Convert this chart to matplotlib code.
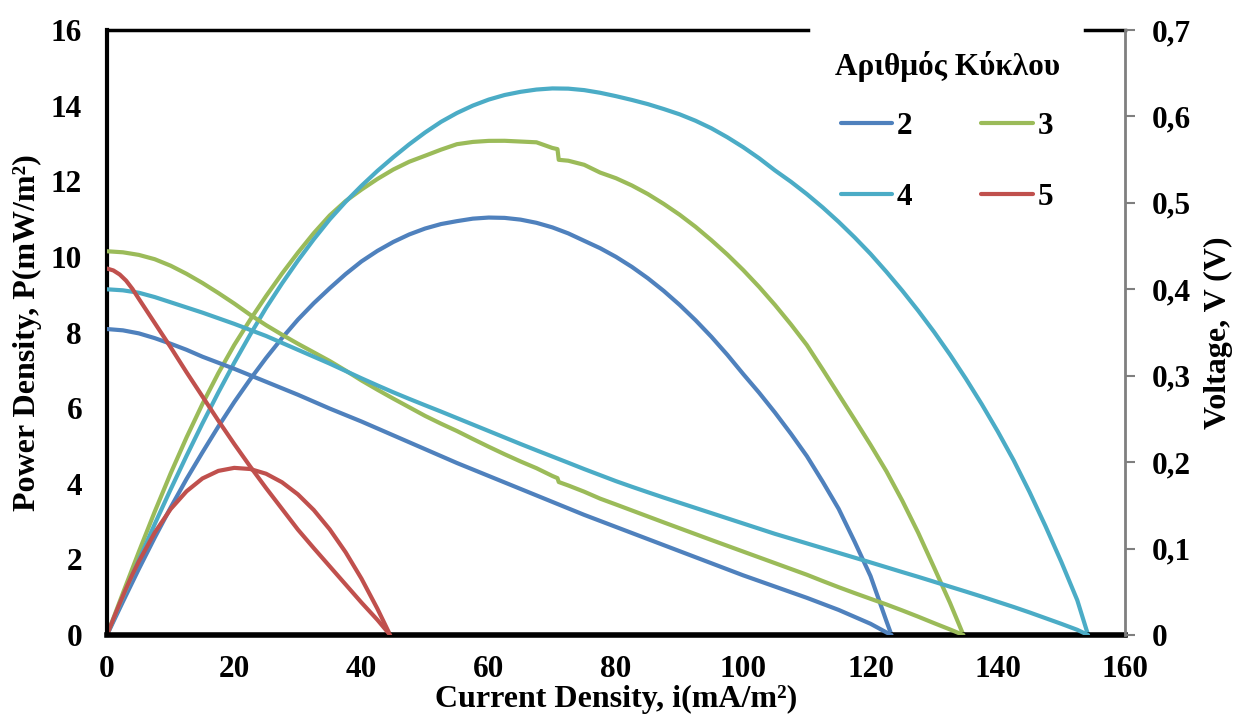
import matplotlib
matplotlib.use("Agg")
import matplotlib.pyplot as plt
from matplotlib.lines import Line2D

# ---------------- data ----------------
cycles = ["2", "3", "4", "5"]
colors = ["#4F81BD", "#9BBB59", "#4BACC6", "#C0504D"]
legend_title = "Αριθμός Κύκλου"

# Cycle 2 : current density (mA/m2), voltage (V), power density (mW/m2)
i2 = [0, 2.5, 5, 7.5, 10, 12.5, 15, 17.5, 20, 22.5, 25, 27.5, 30, 32.5, 35, 37.5,
      40, 42.5, 45, 47.5, 50, 52.5, 55, 57.5, 60, 62.5, 65, 67.5, 70, 72.5, 75, 77.5,
      80, 82.5, 85, 87.5, 90, 92.5, 95, 97.5, 100, 102.5, 105, 107.5, 110, 112.5,
      115, 117.5, 120, 122.5, 123.3]
V2 = [0.354, 0.3525, 0.349, 0.3435, 0.337, 0.330, 0.322, 0.315, 0.308, 0.3005,
      0.293, 0.2855, 0.278, 0.270, 0.262, 0.2545, 0.247, 0.239, 0.231, 0.223, 0.215,
      0.207, 0.199, 0.1915, 0.184, 0.1765, 0.169, 0.1615, 0.154, 0.1465, 0.139,
      0.132, 0.125, 0.118, 0.111, 0.104, 0.097, 0.090, 0.083, 0.076, 0.069, 0.0625,
      0.056, 0.0495, 0.043, 0.036, 0.029, 0.021, 0.013, 0.003, 0.0]
P2 = [0, 0.881, 1.745, 2.576, 3.37, 4.125, 4.83, 5.513, 6.16, 6.761, 7.325, 7.851,
      8.34, 8.775, 9.17, 9.544, 9.88, 10.158, 10.395, 10.593, 10.75, 10.868, 10.945,
      11.011, 11.04, 11.031, 10.985, 10.901, 10.78, 10.621, 10.425, 10.23, 10.0,
      9.735, 9.435, 9.1, 8.73, 8.325, 7.885, 7.41, 6.9, 6.406, 5.88, 5.321, 4.73,
      4.05, 3.335, 2.468, 1.56, 0.368, 0]

# Cycle 3
i3 = [0, 2.5, 5, 7.5, 10, 12.5, 15, 17.5, 20, 22.5, 25, 27.5, 30, 32.5, 35, 37.5,
      40, 42.5, 45, 47.5, 50, 52.5, 55, 57.5, 60, 62.5, 65, 67.5, 70, 70.8, 71.0,
      72.5, 75, 77.5, 80, 82.5, 85, 87.5, 90, 92.5, 95, 97.5, 100, 102.5, 105, 107.5,
      110, 112.5, 115, 117.5, 120, 122.5, 125, 127.5, 130, 132.5, 134.6]
V3 = [0.444, 0.4428, 0.4398, 0.4348, 0.4273, 0.4179, 0.4073, 0.3957, 0.3835, 0.3705,
      0.3585, 0.3475, 0.337, 0.327, 0.317, 0.306, 0.2945, 0.2838, 0.2735, 0.2635,
      0.2535, 0.2445, 0.236, 0.2268, 0.2178, 0.2091, 0.2008, 0.193, 0.184, 0.1815,
      0.177, 0.173, 0.1658, 0.1578, 0.151, 0.1441, 0.1372, 0.1303, 0.1235, 0.1167,
      0.1099, 0.1032, 0.0965, 0.0898, 0.0831, 0.0764, 0.0697, 0.0624, 0.0553, 0.0485,
      0.0419, 0.03535, 0.0284, 0.0212, 0.0137, 0.0064, 0.0]
P3 = [0, 1.107, 2.199, 3.261, 4.273, 5.224, 6.110, 6.925, 7.670, 8.336, 8.963, 9.556,
      10.11, 10.628, 11.095, 11.475, 11.78, 12.06, 12.31, 12.516, 12.675, 12.836,
      12.98, 13.04, 13.068, 13.07, 13.05, 13.03, 12.88, 12.85, 12.567, 12.543, 12.435,
      12.23, 12.08, 11.888, 11.662, 11.401, 11.115, 10.795, 10.44, 10.062, 9.65,
      9.205, 8.726, 8.213, 7.667, 7.02, 6.36, 5.70, 5.03, 4.33, 3.55, 2.703,
      1.781, 0.848, 0]

# Cycle 4
i4 = [0, 2.5, 5, 7.5, 10, 12.5, 15, 17.5, 20, 22.5, 25, 27.5, 30, 32.5, 35, 37.5,
      40, 42.5, 45, 47.5, 50, 52.5, 55, 57.5, 60, 62.5, 65, 67.5, 70, 72.5, 75, 77.5,
      80, 82.5, 85, 87.5, 90, 92.5, 95, 97.5, 100, 102.5, 105, 107.5, 110, 112.5,
      115, 117.5, 120, 122.5, 125, 127.5, 130, 132.5, 135, 137.5, 140, 142.5, 145,
      147.5, 150, 152.5, 154.2]
V4 = [0.400, 0.3988, 0.396, 0.391, 0.385, 0.379, 0.373, 0.3665, 0.360, 0.353, 0.346,
      0.338, 0.330, 0.322, 0.314, 0.3055, 0.297, 0.2888, 0.2808, 0.2732, 0.2658,
      0.2585, 0.251, 0.2435, 0.236, 0.2285, 0.221, 0.2137, 0.2065, 0.1993, 0.192,
      0.1850, 0.178, 0.1715, 0.1652, 0.159, 0.153, 0.147, 0.141, 0.135, 0.129, 0.123,
      0.117, 0.1115, 0.106, 0.1005, 0.095, 0.0895, 0.084, 0.0784, 0.0728, 0.0673,
      0.0616, 0.0559, 0.0502, 0.0444, 0.0384, 0.0324, 0.0261, 0.0195, 0.0129, 0.006,
      0.0]
P4 = [0, 0.997, 1.98, 2.933, 3.85, 4.738, 5.595, 6.414, 7.2, 7.943, 8.65, 9.295, 9.9,
      10.465, 10.99, 11.456, 11.88, 12.274, 12.636, 12.977, 13.29, 13.571, 13.805,
      14.001, 14.16, 14.281, 14.365, 14.425, 14.455, 14.449, 14.41, 14.34, 14.25,
      14.15, 14.04, 13.91, 13.77, 13.6, 13.40, 13.163, 12.9, 12.608, 12.285, 11.986,
      11.66, 11.306, 10.925, 10.516, 10.08, 9.605, 9.105, 8.575, 8.013, 7.413, 6.775,
      6.10, 5.383, 4.62, 3.78, 2.88, 1.93, 0.92, 0]

# Cycle 5
i5 = [0, 1, 2, 3, 4, 5, 7.5, 10, 12.5, 15, 17.5, 20, 22.5, 25, 27.5, 30, 32.5, 35,
      37.5, 40, 42.5, 44.5]
V5 = [0.424, 0.4218, 0.4171, 0.4100, 0.4004, 0.389, 0.361, 0.333, 0.304, 0.276,
      0.248, 0.221, 0.195, 0.170, 0.146, 0.122, 0.1005, 0.0795, 0.0585, 0.0375,
      0.0175, 0.0]
P5 = [0, 0.422, 0.834, 1.23, 1.602, 1.945, 2.708, 3.33, 3.80, 4.14, 4.34, 4.42,
      4.39, 4.265, 4.04, 3.72, 3.305, 2.795, 2.19, 1.49, 0.695, 0]

x_ticks = [0, 20, 40, 60, 80, 100, 120, 140, 160]
p_ticks = [0, 2, 4, 6, 8, 10, 12, 14, 16]
v_ticks = [0, 0.1, 0.2, 0.3, 0.4, 0.5, 0.6, 0.7]
v_labels = ["0", "0,1", "0,2", "0,3", "0,4", "0,5", "0,6", "0,7"]

# ---------------- plot ----------------
plt.rcParams["font.family"] = ["Liberation Serif", "DejaVu Serif"]
plt.rcParams["font.weight"] = "bold"

W, H = 1238, 715
fig = plt.figure(figsize=(W / 100, H / 100), dpi=100)
ax = fig.add_axes([107 / W, 1 - 635 / H, (1125 - 107) / W, 605 / H])
ax2 = ax.twinx()

lw = 3.0
series = [(i2, V2, P2), (i3, V3, P3), (i4, V4, P4), (i5, V5, P5)]
handles = []
for (ii, vv, pp), c, lab in zip(series, colors, cycles):
    h, = ax.plot(ii, pp, color=c, lw=lw, label=lab, solid_capstyle="round",
                 solid_joinstyle="round")
    ax2.plot(ii, vv, color=c, lw=lw, solid_capstyle="round", solid_joinstyle="round")
    handles.append(h)

ax.set_xlim(0, 160)
ax.set_ylim(0, 16)
ax2.set_ylim(0, 0.7)
ax.set_xticks(x_ticks)
ax.set_xticklabels([str(t) for t in x_ticks])
ax.set_yticks(p_ticks)
ax.set_yticklabels([str(t) for t in p_ticks])
ax2.set_yticks(v_ticks)
ax2.set_yticklabels(v_labels)

fs_tick = 22.5
ax.tick_params(axis="both", length=0, labelsize=fs_tick)
ax.tick_params(axis="x", pad=14.5)
ax.tick_params(axis="y", pad=18)
ax2.tick_params(axis="y", length=7, width=1.5, color="#7f7f7f", direction="out",
                labelsize=fs_tick, pad=12)
for lbl in ax.get_xticklabels() + ax.get_yticklabels() + ax2.get_yticklabels():
    lbl.set_fontweight("bold")

for s in ["left", "bottom"]:
    ax.spines[s].set_color("black")
ax.spines["left"].set_linewidth(3)
ax.spines["bottom"].set_linewidth(4)
ax.spines["top"].set_visible(False)
ax.spines["right"].set_visible(False)
for s in ["left", "bottom", "top"]:
    ax2.spines[s].set_visible(False)
ax2.spines["right"].set_color("#7f7f7f")
ax2.spines["right"].set_linewidth(2)

# top border, interrupted where the legend sits
gap0 = (808 - 107) / (1125 - 107)
gap1 = (1085 - 107) / (1125 - 107)
for xa, xb in [(0, gap0), (gap1, 1.0)]:
    ax.add_line(Line2D([xa, xb], [1, 1], transform=ax.transAxes, color="black",
                       lw=2.5, clip_on=False, zorder=3))

fs_lab = 23
ax.set_xlabel("Current Density, i(mA/m²)", fontsize=fs_lab, fontweight="bold", labelpad=0.5)
ax.set_ylabel("Power Density, P(mW/m²)", fontsize=fs_lab, fontweight="bold", labelpad=6)
ax2.set_ylabel("Voltage, V (V)", fontsize=fs_lab, fontweight="bold", labelpad=10)

# legend (title placed as a separate text, entries in a 2x2 grid)
fig.text(835 / W, 1 - 66 / H, legend_title, fontsize=fs_tick, fontweight="bold",
         ha="left", va="center")
order = [0, 2, 1, 3]
leg = ax2.legend([handles[k] for k in order], [cycles[k] for k in order],
                 ncol=2, loc="upper left",
                 bbox_to_anchor=(825 / W, 1 - 96 / H), bbox_transform=fig.transFigure,
                 frameon=False,
                 prop={"size": fs_tick, "weight": "bold"},
                 handlelength=1.65, handletextpad=0.15, columnspacing=2.2,
                 labelspacing=1.35, borderpad=0.0)

fig.savefig("out.png", dpi=100)
